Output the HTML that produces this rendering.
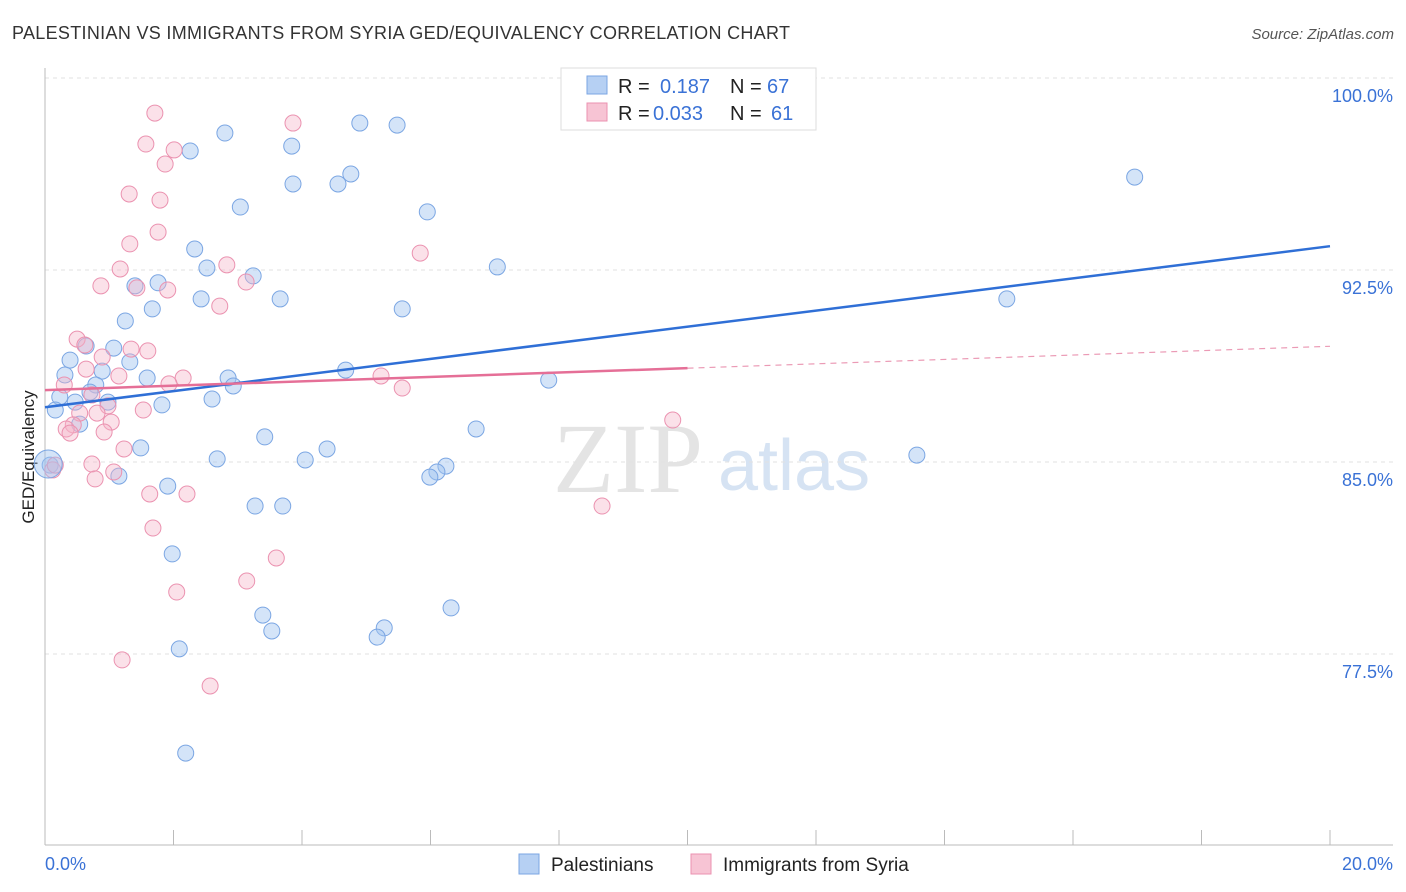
<!DOCTYPE html>
<html><head><meta charset="utf-8"><style>
body{margin:0;background:#fff;font-family:"Liberation Sans",sans-serif}
svg{display:block}
</style></head><body>
<svg id="chart" width="1406" height="892">
<text x="12" y="39" font-size="18" fill="#333" textLength="778">PALESTINIAN VS IMMIGRANTS FROM SYRIA GED/EQUIVALENCY CORRELATION CHART</text>
<text x="1394" y="39" font-size="15" fill="#555" font-style="italic" text-anchor="end">Source: ZipAtlas.com</text>
<text x="553" y="492" font-size="100" fill="#e4e4e4" font-family="Liberation Serif,serif">ZIP</text>
<text x="718" y="490" font-size="72" fill="#d6e3f3">atlas</text>
<text transform="translate(34,457) rotate(-90)" font-size="17" fill="#222" text-anchor="middle">GED/Equivalency</text>
<g id="grid"></g><g id="marks"></g>
<g>
<rect x="561" y="68" width="255" height="62" fill="#fff" stroke="#ddd"/>
<rect x="587" y="76" width="20" height="18" fill="#b6d0f3" stroke="#7ba6e3"/>
<text x="618" y="93" font-size="20" fill="#222">R = </text><text x="660" y="93" font-size="20" fill="#3a72d6">0.187</text>
<text x="730" y="93" font-size="20" fill="#222">N = </text><text x="767" y="93" font-size="20" fill="#3a72d6">67</text>
<rect x="587" y="103" width="20" height="18" fill="#f7c4d4" stroke="#eb92b0"/>
<text x="618" y="120" font-size="20" fill="#222">R = </text><text x="653" y="120" font-size="20" fill="#3a72d6">0.033</text>
<text x="730" y="120" font-size="20" fill="#222">N = </text><text x="771" y="120" font-size="20" fill="#3a72d6">61</text>
</g>
<g>
<rect x="519" y="854" width="20" height="20" fill="#b6d0f3" stroke="#7ba6e3"/>
<text x="551" y="871" font-size="19" fill="#222">Palestinians</text>
<rect x="691" y="854" width="20" height="20" fill="#f7c4d4" stroke="#eb92b0"/>
<text x="723" y="871" font-size="19" fill="#222">Immigrants from Syria</text>
</g>
</svg>
<script>
const blueX=[11.80,2.80,4.90,5.48,2.26,3.84,3.86,4.56,4.76,16.96,3.04,5.95,2.33,2.52,3.24,7.04,1.40,1.76,2.43,3.66,1.67,5.56,14.97,1.25,0.64,1.07,0.39,1.32,0.31,0.89,1.59,2.85,2.93,4.68,7.84,0.79,0.70,0.23,0.47,0.98,2.60,1.82,0.16,0.54,6.71,3.42,1.49,4.39,2.68,4.05,13.57,6.24,6.10,5.99,1.15,1.91,0.08,3.27,3.70,1.98,3.39,6.32,3.53,5.28,5.17,2.09,2.19];
const blueY=[99.92,97.85,98.24,98.16,97.15,97.34,95.86,95.86,96.25,96.13,94.96,94.77,93.32,92.58,92.27,92.62,91.88,92.00,91.37,91.37,90.98,90.98,91.37,90.51,89.53,89.45,88.98,88.91,88.40,88.55,88.28,88.28,87.97,88.59,88.20,88.01,87.73,87.54,87.34,87.34,87.46,87.23,87.03,86.48,86.29,85.98,85.55,85.51,85.12,85.08,85.27,84.84,84.61,84.41,84.45,84.06,84.88,83.28,83.28,81.41,79.02,79.30,78.40,78.52,78.16,77.70,73.63];
const pinkX=[1.71,3.86,1.57,2.01,1.87,1.31,1.79,1.76,1.32,2.83,5.84,1.17,3.13,0.87,1.43,1.91,2.72,0.50,0.62,1.60,1.34,0.89,0.64,1.15,2.15,1.93,5.23,5.56,0.30,0.73,0.98,0.54,0.81,1.03,0.44,0.33,0.39,0.92,1.53,1.23,0.73,0.12,0.78,1.07,1.63,2.21,9.77,8.67,1.68,3.60,3.14,2.05,1.20,2.57,0.16];
const pinkY=[98.63,98.24,97.42,97.19,96.64,95.47,95.23,93.98,93.52,92.70,93.16,92.54,92.03,91.88,91.80,91.72,91.09,89.80,89.57,89.34,89.41,89.10,88.63,88.36,88.28,88.05,88.36,87.89,88.01,87.62,87.19,86.91,86.91,86.56,86.45,86.29,86.13,86.17,87.03,85.51,84.92,84.69,84.34,84.61,83.75,83.75,86.64,83.28,82.42,81.25,80.35,79.92,77.27,76.25,84.88];
const blueTrend=[87.14,93.43];
const pinkTrend=[87.81,89.52];
const yTicks=[100,92.5,85,77.5];
const yTickLabels=["100.0%","92.5%","85.0%","77.5%"];
const xTicks=[0,2,4,6,8,10,12,14,16,18,20];
const NS="http://www.w3.org/2000/svg";
const sx=v=>45+v*64.25, sy=v=>78+(100-v)*25.6;
function mk(tag,attrs,parent){const e=document.createElementNS(NS,tag);for(const k in attrs)e.setAttribute(k,attrs[k]);parent.appendChild(e);return e;}
const grid=document.getElementById('grid'), marks=document.getElementById('marks');
yTicks.forEach((t,i)=>{
 const l=mk('line',{x1:45,x2:1393,y1:sy(t),y2:sy(t),stroke:'#e2e2e2','stroke-dasharray':'4,4'},grid);
 
 
 const tx=mk('text',{x:1393,y:sy(t)+24,'font-size':18,fill:'#3a72d6','text-anchor':'end'},grid);tx.textContent=yTickLabels[i];
 
 
});
const ax=mk('line',{x1:45,x2:45,y1:68,y2:845,stroke:'#bbb'},grid);


const bx=mk('line',{x1:45,x2:1393,y1:845,y2:845,stroke:'#bbb'},grid);


xTicks.forEach(t=>{const l=mk('line',{x1:sx(t),x2:sx(t),y1:830,y2:845,stroke:'#bbb'},grid);
 
 });
const xl0=mk('text',{x:45,y:870,'font-size':18,fill:'#3a72d6'},grid);xl0.textContent='0.0%';


const xl1=mk('text',{x:1393,y:870,'font-size':18,fill:'#3a72d6','text-anchor':'end'},grid);xl1.textContent='20.0%';


blueX.forEach((x,i)=>{const c=mk('circle',{cx:sx(x),cy:sy(blueY[i]),r:8,fill:'rgba(160,195,240,0.45)',stroke:'#7ba6e3','stroke-width':1},marks);
 
 });
pinkX.forEach((x,i)=>{const c=mk('circle',{cx:sx(x),cy:sy(pinkY[i]),r:8,fill:'rgba(245,180,200,0.4)',stroke:'#eb92b0','stroke-width':1},marks);
 
 });
const big=mk('circle',{cx:sx(0.05),cy:sy(84.92),r:14,fill:'rgba(160,195,240,0.45)',stroke:'#7ba6e3'},marks);


const bl=mk('line',{x1:sx(0),y1:sy(blueTrend[0]),x2:sx(20),y2:sy(blueTrend[1]),stroke:'#2f6fd6','stroke-width':2.5},marks);


const pm=pinkTrend[0]+(pinkTrend[1]-pinkTrend[0])*0.5;
const pl=mk('line',{x1:sx(0),y1:sy(pinkTrend[0]),x2:sx(10),y2:sy(pm),stroke:'#e56f97','stroke-width':2.5},marks);


const pd=mk('line',{x1:sx(10),y1:sy(pm),x2:sx(20),y2:sy(pinkTrend[1]),stroke:'#eb9ab5','stroke-width':1.2,'stroke-dasharray':'6,5'},marks);


</script>
</body></html>
